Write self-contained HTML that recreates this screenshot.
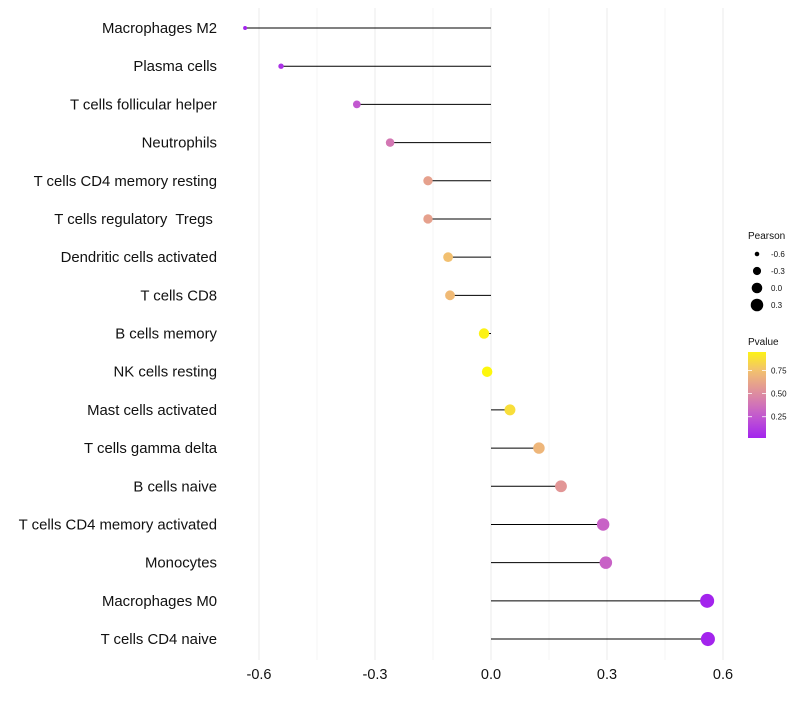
<!DOCTYPE html>
<html><head><meta charset="utf-8"><style>
body{margin:0;background:#fff}
svg text{font-family:"Liberation Sans",sans-serif;white-space:pre}
</style></head><body>
<svg id="c" width="800" height="700"></svg>
<script>
const categories=["Macrophages M2","Plasma cells","T cells follicular helper","Neutrophils","T cells CD4 memory resting","T cells regulatory  Tregs ","Dendritic cells activated","T cells CD8","B cells memory","NK cells resting","Mast cells activated","T cells gamma delta","B cells naive","T cells CD4 memory activated","Monocytes","Macrophages M0","T cells CD4 naive"];
const pearson=[-0.636,-0.543,-0.347,-0.261,-0.163,-0.163,-0.111,-0.106,-0.018,-0.010,0.049,0.124,0.181,0.290,0.297,0.559,0.561];
const pvalue=[0.02,0.08,0.25,0.40,0.60,0.60,0.75,0.72,0.95,0.97,0.87,0.70,0.55,0.30,0.30,0.02,0.02];
const xTicks=[-0.6,-0.3,0.0,0.3,0.6];
const xTickLabels=["-0.6","-0.3","0.0","0.3","0.6"];
const sizeLegend=[-0.6,-0.3,0.0,0.3];
const colorLegend=[0.25,0.5,0.75];

const NS="http://www.w3.org/2000/svg";
const svg=document.getElementById('c');
function el(t,a,p){const e=document.createElementNS(NS,t);for(const k in a)e.setAttribute(k,a[k]);(p||svg).appendChild(e);return e;}
const x=v=>491+v*386.67;
const y=i=>28+i*38.19;
const r=v=>Math.sqrt(Math.max(1.5,28+38*v));
const stops=[[0,[160,32,240]],[0.25,[194,88,208]],[0.5,[222,140,160]],[0.75,[242,192,112]],[1,[255,255,0]]];
function col(p){for(let i=1;i<stops.length;i++){if(p<=stops[i][0]){const a=stops[i-1],b=stops[i],t=(p-a[0])/(b[0]-a[0]);return 'rgb('+a[1].map((c,k)=>Math.round(c+(b[1][k]-c)*t)).join(',')+')';}}return 'rgb(255,255,0)';}

// grid
for(let v=-0.6;v<=0.61;v+=0.15){const g=el('line',{x1:x(v),x2:x(v),y1:8,y2:660,stroke:'#ebebeb','stroke-width':Math.abs(Math.round(v/0.3)*0.3-v)<1e-6?1:0.5});
}
xTicks.forEach((v,i)=>{const t=el('text',{x:x(v),y:679,'text-anchor':'middle','font-size':14.5,fill:'#111'});t.textContent=xTickLabels[i];
});
categories.forEach((c,i)=>{
const t=el('text',{x:217,y:y(i)+5,'text-anchor':'end','font-size':14.9,fill:'#111'});t.textContent=c;

const l=el('line',{x1:x(0),x2:x(pearson[i]),y1:y(i),y2:y(i),stroke:'#000','stroke-width':1});

const d=el('circle',{cx:x(pearson[i]),cy:y(i),r:r(pearson[i]),fill:col(pvalue[i])});

});
// size legend
const st=el('text',{x:748,y:239,'font-size':10,fill:'#111'});st.textContent='Pearson';

sizeLegend.forEach((v,i)=>{const cy=254+i*17;
const d=el('circle',{cx:757,cy:cy,r:r(v),fill:'#000'});
const t=el('text',{x:771,y:cy+3,'font-size':8,fill:'#111'});t.textContent=v.toFixed(1);});
// color legend
const ct=el('text',{x:748,y:345,'font-size':10,fill:'#111'});ct.textContent='Pvalue';

const defs=el('defs',{});const lg=el('linearGradient',{id:'g',x1:0,y1:1,x2:0,y2:0},defs);
for(let k=0;k<=10;k++){const p=0.02+k*0.093;el('stop',{offset:k/10,'stop-color':col(p)},lg);}
const bar=el('rect',{x:748,y:352,width:18,height:86,fill:'url(#g)'});

const cy=p=>438-(p-0.02)/0.93*86;
colorLegend.forEach(p=>{el('line',{x1:748,x2:752,y1:cy(p),y2:cy(p),stroke:'#fff','stroke-width':0.8});el('line',{x1:762,x2:766,y1:cy(p),y2:cy(p),stroke:'#fff','stroke-width':0.8});
const t=el('text',{x:771,y:cy(p)+3,'font-size':8,fill:'#111'});t.textContent=p.toFixed(2);});
</script>
</body></html>
